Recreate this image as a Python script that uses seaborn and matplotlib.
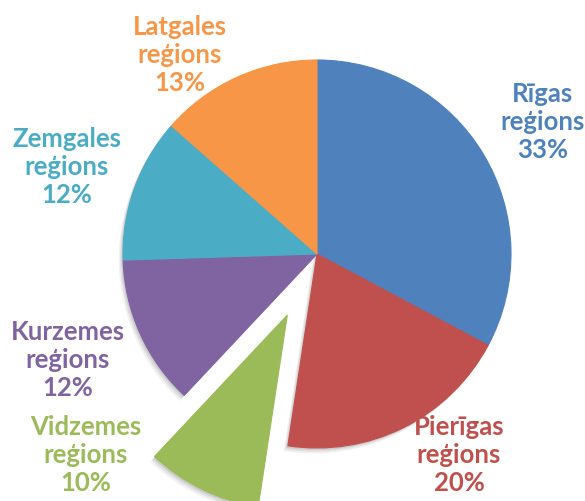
import matplotlib
matplotlib.use("Agg")
import matplotlib.pyplot as plt
import seaborn as sns

# data
regions = ['Rīgas', 'Pierīgas', 'Vidzemes', 'Kurzemes', 'Zemgales', 'Latgales']
shares = [32.8, 19.6, 9.6, 12.5, 12.0, 13.5]
pct_labels = [33, 20, 10, 12, 12, 13]
explode = [0, 0, 0.35, 0, 0, 0]
colors = ['#4F81BD', '#C0504D', '#9BBB59', '#8064A2', '#4BACC6', '#F79646']

sns.set_style('white')
plt.rcParams['font.family'] = ['Lato', 'DejaVu Sans']

fig = plt.figure(figsize=(5.85, 5.01), dpi=100)
ax = fig.add_axes([0, 0, 1, 1])

# pie center at pixel (317, 254), radius 194 px
cx, cy, r = 317, 254, 194

# soft shadow underneath
for k, a in [(0.022, 0.05), (0.015, 0.07), (0.008, 0.09)]:
    ax.pie(shares, explode=explode, colors=['black'] * len(shares), startangle=90,
           counterclock=False, radius=1, center=(-k, -k * 1.3),
           wedgeprops=dict(linewidth=0, alpha=a, zorder=0))

wedges, _ = ax.pie(shares, explode=explode, colors=colors, startangle=90,
                   counterclock=False, radius=1,
                   wedgeprops=dict(linewidth=0.8, zorder=2))
for w, c in zip(wedges, colors):
    w.set_edgecolor(c)

ax.set_xlim((0 - cx) / r, (585 - cx) / r)
ax.set_ylim(-(501 - cy) / r, cy / r)
ax.set_aspect('auto')
ax.axis('off')

# label positions in pixels
label_px = [(543, 122), (459, 455), (86, 455), (68, 360), (67, 167), (180, 55)]
for name, v, c, (px, py) in zip(regions, pct_labels, colors, label_px):
    ax.text((px - cx) / r, (cy - py) / r, f'{name}\nreģions\n{v}%', color=c,
            fontsize=18.5, fontweight='bold', ha='center', va='center',
            linespacing=1.22, zorder=3)

fig.savefig('out.png', dpi=100)
